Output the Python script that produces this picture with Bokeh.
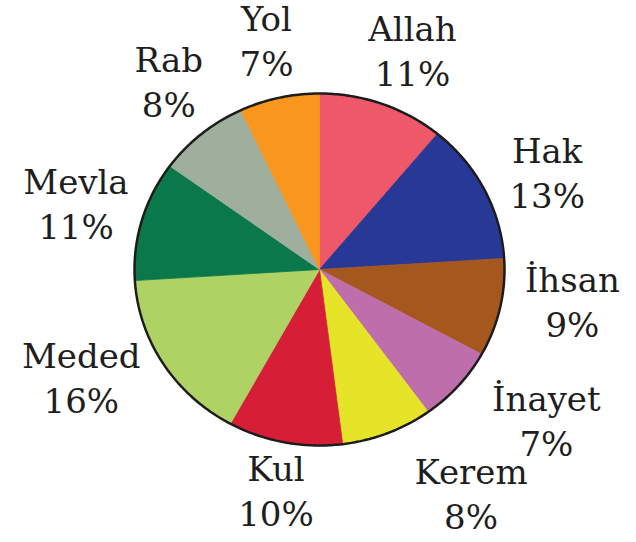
import numpy as np
from bokeh.plotting import figure
from bokeh.models import Range1d
from bokeh.embed import file_html
from bokeh.resources import INLINE
from bokeh.core.properties import value

# ---- data ----
names = ["Allah", "Hak", "İhsan", "İnayet", "Kerem", "Kul", "Meded", "Mevla", "Rab", "Yol"]
shares = [11, 13, 9, 7, 8, 10, 16, 11, 8, 7]
colors = ["#ee5868", "#283896", "#a5581e", "#be6eaa", "#e6e428",
          "#d71e37", "#afd264", "#0a784b", "#a0ae9e", "#f8961e"]

# ---- layout ----
W, H = 636, 542
RX, RY = 185, 176          # pixels per unit radius (pie is slightly oval)
CX, CY = 319, 269          # pie centre, px from left / top of the figure
label_dtheta = [-3.3, -4.2, 5.2, 7.6, 12.4, -0.3, -7.8, 1.3, -0.7, 0.5]   # deg nudge
label_rpx = [237, 247, 255, 273, 271, 226, 262, 252, 240, 234]          # px from centre
line_gap = 22.5

p = figure(width=W, height=H, output_backend="svg", toolbar_location=None,
           x_range=Range1d(-CX / RX, (W - CX) / RX),
           y_range=Range1d(-(H - CY) / RY, CY / RY),
           x_axis_location=None, y_axis_location=None,
           min_border=0, outline_line_color=None,
           background_fill_color="white", border_fill_color="white")
p.grid.visible = False

frac = np.array(shares, dtype=float) / sum(shares)
ends = np.cumsum(frac)
starts = ends - frac
a_start = np.pi / 2 - 2 * np.pi * starts
a_end = np.pi / 2 - 2 * np.pi * ends

xs, ys = [], []
for a0, a1 in zip(a_start, a_end):
    t = np.linspace(a0, a1, 90)
    xs.append(np.concatenate([[0.0], np.cos(t), [0.0]]))
    ys.append(np.concatenate([[0.0], np.sin(t), [0.0]]))
p.patches(xs, ys, fill_color=colors, line_color=colors, line_width=0.8)

t = np.linspace(0, 2 * np.pi, 500)
p.line(np.cos(t), np.sin(t), line_color="#1c1c1c", line_width=2.5)

mid = (a_start + a_end) / 2 + np.radians(label_dtheta)
r = np.array(label_rpx, dtype=float)
lx = r * np.cos(mid) / RX
ly = r * np.sin(mid) / RY
pcts = [f"{v}%" for v in shares]

common = dict(text_font=value("DejaVu Serif"), text_font_size="34px",
              text_align="center", text_baseline="middle", text_color="#1e1e1e")
p.text(x=lx, y=ly + line_gap / RY, text=names, **common)
p.text(x=lx, y=ly - line_gap / RY, text=pcts, **common)

open("out.html", "w").write(file_html(p, INLINE))
